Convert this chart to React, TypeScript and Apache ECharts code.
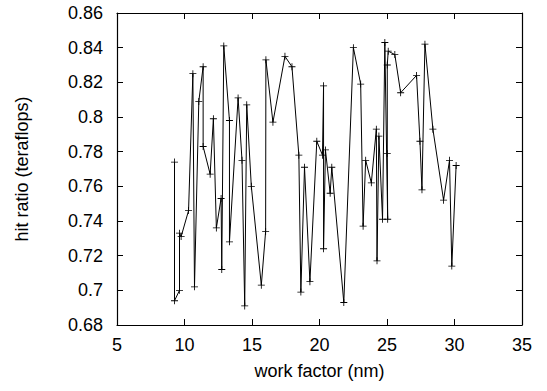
import React, { useEffect, useRef } from "react";
import * as echarts from "echarts";

const xValues = [
  9.26, 9.26, 9.63, 9.63, 9.75, 10.3, 10.62, 10.74, 11.06, 11.38, 11.38, 11.9, 12.14, 12.36, 12.71, 12.76,
  12.91, 13.33, 13.33, 13.97, 14.26, 14.46, 14.61, 14.95, 15.69, 16.01, 16.03, 16.55, 17.44, 17.96, 18.47,
  18.62, 18.89, 19.29, 19.8, 20.22, 20.3, 20.3, 20.44, 20.79, 20.91, 21.8, 22.51, 23.05, 23.23, 23.42, 23.84,
  24.21, 24.26, 24.4, 24.67, 24.84, 25.05, 25.02, 25.02, 25.09, 25.58, 26.01, 27.19, 27.44, 27.59, 27.81,
  28.4, 29.19, 29.63, 29.8, 30.12,
];
const yValues = [
  0.774, 0.694, 0.7, 0.733, 0.731, 0.746, 0.825, 0.702, 0.809, 0.829, 0.783, 0.767, 0.799, 0.736, 0.753, 0.712,
  0.841, 0.798, 0.728, 0.811, 0.775, 0.691, 0.807, 0.76, 0.703, 0.734, 0.833, 0.797, 0.835, 0.829, 0.778,
  0.699, 0.771, 0.705, 0.786, 0.778, 0.818, 0.724, 0.781, 0.756, 0.771, 0.693, 0.84, 0.819, 0.737, 0.775, 0.762,
  0.793, 0.717, 0.789, 0.741, 0.843, 0.741, 0.779, 0.83, 0.838, 0.836, 0.814, 0.824, 0.786, 0.758, 0.842,
  0.793, 0.752, 0.775, 0.714, 0.772,
];
const xAxisLabel = "work factor (nm)";
const yAxisLabel = "hit ratio (teraflops)";

const FONT = "Liberation Sans, Arial, Helvetica, sans-serif";
const FS = 18;
const PLUS = "path://M-0.12,-1H0.12V-0.12H1V0.12H0.12V1H-0.12V0.12H-1V-0.12H-0.12Z";

export default function App() {
  const ref = useRef<HTMLDivElement>(null);
  useEffect(() => {
    if (!ref.current) return;
    const chart = echarts.init(ref.current, null, { renderer: "svg" });
    const tickStyle = { show: true, inside: true, length: 6, lineStyle: { color: "#000", width: 1 } };
    const lineStyle = { show: true, lineStyle: { color: "#000", width: 1.2 } };
    chart.setOption({
      animation: false,
      backgroundColor: "#fff",
      grid: { left: 117, right: 25, top: 13, bottom: 66, containLabel: false },
      xAxis: [
        {
          type: "value", min: 5, max: 35, interval: 5,
          name: xAxisLabel, nameLocation: "middle", nameGap: 37,
          nameTextStyle: { fontFamily: FONT, fontSize: FS, color: "#000" },
          axisLine: lineStyle, axisTick: tickStyle, splitLine: { show: false },
          axisLabel: { fontFamily: FONT, fontSize: FS, color: "#000", margin: 11 },
        },
        {
          type: "value", min: 5, max: 35, interval: 5, position: "top",
          axisLine: lineStyle, axisTick: tickStyle, splitLine: { show: false }, axisLabel: { show: false },
        },
      ],
      yAxis: [
        {
          type: "value", min: 0.68, max: 0.86, interval: 0.02,
          name: yAxisLabel, nameLocation: "middle", nameGap: 86,
          nameTextStyle: { fontFamily: FONT, fontSize: FS, color: "#000" },
          axisLine: lineStyle, axisTick: tickStyle, splitLine: { show: false },
          axisLabel: {
            fontFamily: FONT, fontSize: FS, color: "#000", margin: 14,
            formatter: (v: number) => String(parseFloat(v.toFixed(2))),
          },
        },
        {
          type: "value", min: 0.68, max: 0.86, interval: 0.02, position: "right",
          axisLine: lineStyle, axisTick: tickStyle, splitLine: { show: false }, axisLabel: { show: false },
        },
      ],
      series: [
        {
          type: "line",
          data: xValues.map((x, i) => [x, yValues[i]]),
          symbol: PLUS,
          symbolSize: 7,
          showAllSymbol: true,
          itemStyle: { color: "#000" },
          lineStyle: { color: "#000", width: 1 },
        },
      ],
    });
    return () => chart.dispose();
  }, []);
  return <div ref={ref} style={{ width: 547, height: 391, position: "absolute", left: 0, top: 0 }} />;
}
